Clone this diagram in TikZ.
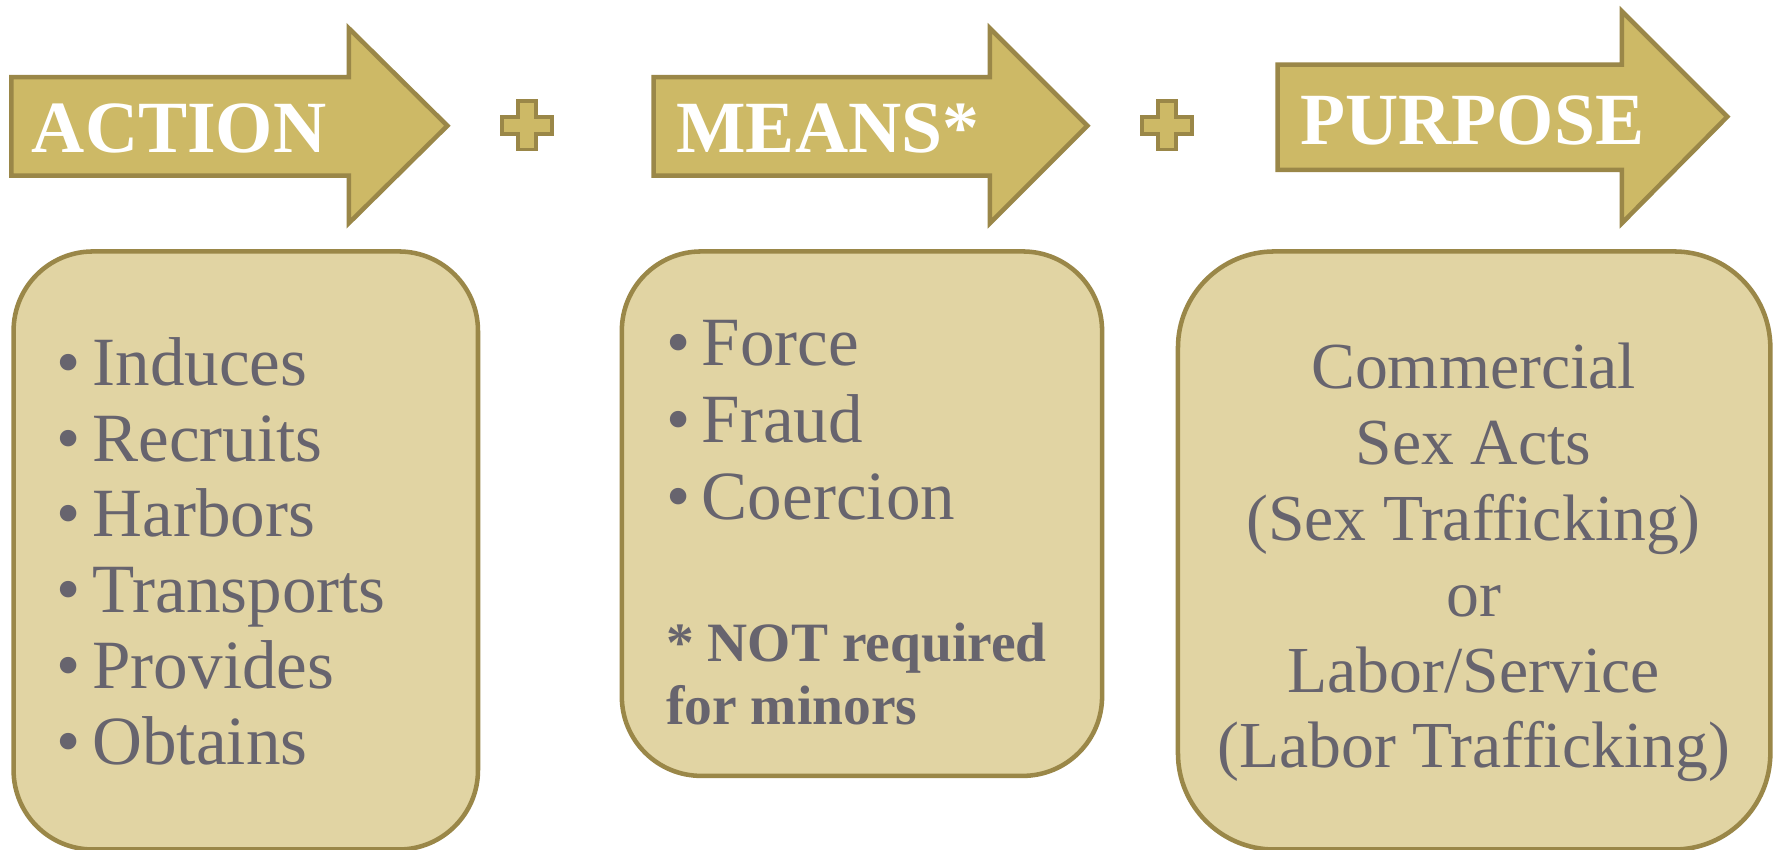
\documentclass[tikz,border=0pt]{standalone}
\usepackage{fontspec}
\setmainfont{Liberation Serif}
\definecolor{gold}{HTML}{CDB966}
\definecolor{goldline}{HTML}{9A8748}
\definecolor{sand}{HTML}{E1D4A3}
\definecolor{slate}{HTML}{67646E}

\begin{document}
\begin{tikzpicture}[x=1pt,y=-1pt,
	fleche/.style={fill=gold,draw=goldline,line width=4pt,line join=miter},
	boite/.style={fill=sand,draw=goldline,line width=4pt,rounded corners=70pt},
	titre/.style={anchor=base west,inner sep=0pt,text=white,font=\fontsize{65}{65}\selectfont\bfseries},
	puce/.style={anchor=base west,inner sep=0pt,text=slate,font=\fontsize{61}{67}\selectfont},
	note/.style={anchor=base west,inner sep=0pt,text=slate,font=\fontsize{49}{56}\selectfont\bfseries},
	milieu/.style={anchor=base,inner sep=0pt,text=slate,font=\fontsize{58}{67}\selectfont}]
	\useasboundingbox (0,0) rectangle (1568,750.4);
	\fill[white] (0,0) rectangle (1568,750.4);
	% Flèches
	\draw [fleche] (10,68) -- (308,68) -- (308,25) -- (395,111) -- (308,197) -- (308,155) -- (10,155) -- cycle;
	\draw [fleche] (577,68) -- (874,68) -- (874,25) -- (960,111) -- (874,197) -- (874,155) -- (577,155) -- cycle;
	\draw [fleche] (1128,57) -- (1432,57) -- (1432,10) -- (1525,103) -- (1432,197) -- (1432,150) -- (1128,150) -- cycle;
	\node [titre] (action) at (28,135) {ACTION};
	\node [titre] (means) at (597,135) {MEANS*};
	\node [titre] (purpose) at (1148,128) {PURPOSE};
	% Plus
	\foreach \cx in {465,1030}
		\draw [fleche,line width=3.5pt] (\cx-8,89) -- (\cx+8,89) -- (\cx+8,103) -- (\cx+22,103) -- (\cx+22,118) -- (\cx+8,118) -- (\cx+8,132) -- (\cx-8,132) -- (\cx-8,118) -- (\cx-22,118) -- (\cx-22,103) -- (\cx-8,103) -- cycle;
	% Boites
	\draw [boite] (12,222) rectangle (422,750);
	\draw [boite] (549,222) rectangle (973,685);
	\draw [boite,rounded corners=85pt] (1040,222) rectangle (1563,750);
	% Action
	\foreach \mot [count=\i] in {Induces,Recruits,Harbors,Transports,Provides,Obtains}
		\node [puce] (act\i) at (50,273+67*\i) {\textbullet\,\mot};
	% Means
	\foreach \mot [count=\i] in {Force,Fraud,Coercion}
		\node [puce] (mea\i) at (588,255+68*\i) {\textbullet\,\mot};
	\node [note] (nota) at (588,584) {* NOT required};
	\node [note] (notb) at (588,640) {for minors};
	% Purpose
	\foreach \mot [count=\i] in {Commercial,Sex Acts,(Sex Trafficking),or,Labor/Service,(Labor Trafficking)}
		\node [milieu] (pur\i) at (1301,276+67*\i) {\mot};
\end{tikzpicture}
\end{document}
